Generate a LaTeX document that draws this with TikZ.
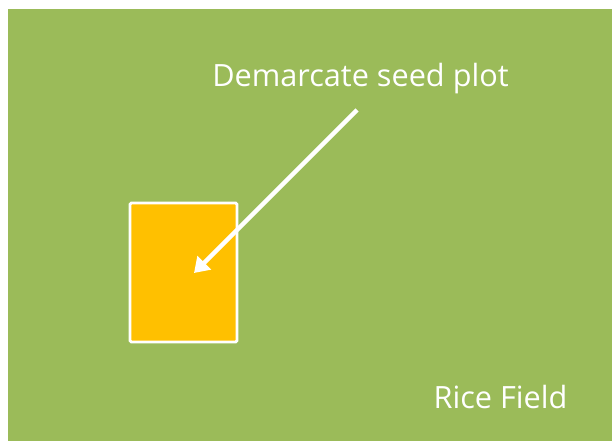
\documentclass[tikz,border=0pt]{standalone}
\usepackage{fontspec}
\setmainfont{Open Sans}
\usetikzlibrary{arrows.meta}
\definecolor{fieldgreen}{RGB}{155,187,89}
\definecolor{plotorange}{RGB}{255,192,0}

\begin{document}
\begin{tikzpicture}[x=0.75pt,y=0.75pt,yscale=-1,
  label text/.style={text=white,font=\fontsize{23}{28}\selectfont,inner sep=0pt,anchor=base}]
%set diagram size 612 x 441
\fill[white] (0,0) rectangle (612,441);
\useasboundingbox (0,0) rectangle (612,441);

%Shape: Rectangle [id:field]
\fill[fieldgreen] (8,9) rectangle (612,441);
%Shape: Rectangle [id:seedplot]
\draw[white,line width=2.2pt,fill=plotorange,rounded corners=1pt] (130,203) rectangle (237,342);

%Arrow [id:demarcate]
\coordinate (tail) at (357,110);
\coordinate (tip) at (194,273);
\draw[white,line width=3.2pt,-{Triangle[length=11pt,width=14pt]}] (tail) -- (tip);

% Text Node
\node[label text] (demarcate) at (360.5,87) {Demarcate seed plot};
% Text Node
\node[label text] (ricefield) at (500.5,409) {Rice Field};

\end{tikzpicture}
\end{document}
